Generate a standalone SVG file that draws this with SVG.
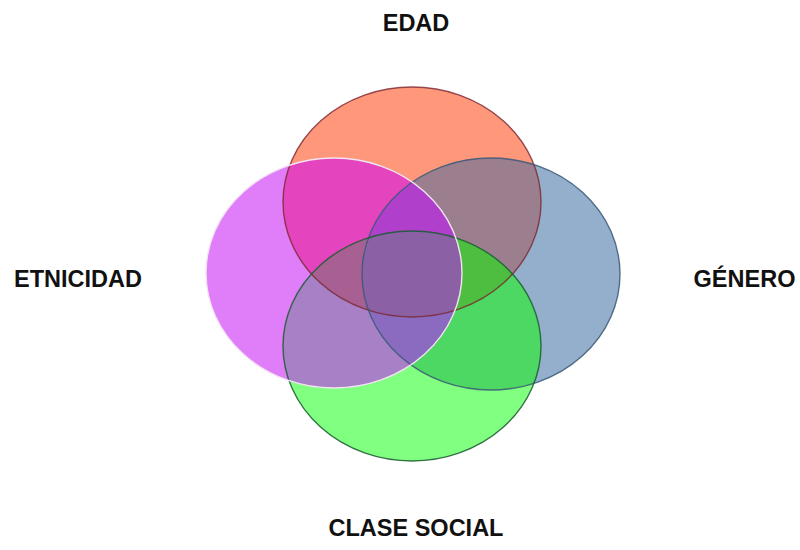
<svg xmlns="http://www.w3.org/2000/svg" xmlns:xlink="http://www.w3.org/1999/xlink" width="800" height="550" viewBox="0 0 800 550">
  <style>
    .lbl { font-family: "Liberation Sans", Arial, sans-serif; font-weight: bold; font-size: 23.5px; fill: #111111; text-anchor: middle; }
    .edge { fill: none; stroke-width: 1.4; }
  </style>
  <defs>
    <ellipse id="eR" cx="412" cy="202" rx="129" ry="115"/>
    <ellipse id="eB" cx="491" cy="274" rx="129" ry="116"/>
    <ellipse id="eG" cx="412" cy="346" rx="129" ry="115"/>
    <ellipse id="eM" cx="334" cy="273" rx="128" ry="115"/>
    <clipPath id="cR"><use xlink:href="#eR"/></clipPath>
    <clipPath id="cB"><use xlink:href="#eB"/></clipPath>
    <clipPath id="cG"><use xlink:href="#eG"/></clipPath>
    <clipPath id="cM"><use xlink:href="#eM"/></clipPath>
  </defs>
  <rect width="800" height="550" fill="#ffffff"/>

  <g id="node-edad">
    <use xlink:href="#eR" fill="#FF987B"/>
    <text class="lbl" x="416" y="31">EDAD</text>
  </g>
  <g id="node-genero">
    <use xlink:href="#eB" fill="#94AFCB"/>
    <text class="lbl" x="744.5" y="287">GÉNERO</text>
  </g>
  <g id="node-clase-social">
    <use xlink:href="#eG" fill="#80FF80"/>
    <text class="lbl" x="416" y="536">CLASE SOCIAL</text>
  </g>
  <g id="node-etnicidad">
    <use xlink:href="#eM" fill="#E07DF8"/>
    <text class="lbl" x="78" y="287">ETNICIDAD</text>
  </g>

  <g id="overlaps">
    <g clip-path="url(#cR)"><use xlink:href="#eM" fill="#E444BD"/></g>
    <g clip-path="url(#cR)"><use xlink:href="#eB" fill="#9B7F8E"/></g>
    <g clip-path="url(#cR)"><use xlink:href="#eG" fill="#A86092"/></g>
    <g clip-path="url(#cM)"><use xlink:href="#eG" fill="#A780C5"/></g>
    <g clip-path="url(#cM)"><use xlink:href="#eB" fill="#8A6CC0"/></g>
    <g clip-path="url(#cB)"><use xlink:href="#eG" fill="#4CD862"/></g>
    <g clip-path="url(#cR)"><g clip-path="url(#cM)"><use xlink:href="#eB" fill="#B040CB"/></g></g>
    <g clip-path="url(#cR)"><g clip-path="url(#cM)"><use xlink:href="#eG" fill="#A86092"/></g></g>
    <g clip-path="url(#cR)"><g clip-path="url(#cB)"><use xlink:href="#eG" fill="#4DBE3F"/></g></g>
    <g clip-path="url(#cM)"><g clip-path="url(#cB)"><use xlink:href="#eG" fill="#8A6BC0"/></g></g>
    <g clip-path="url(#cR)"><g clip-path="url(#cM)"><g clip-path="url(#cB)"><use xlink:href="#eG" fill="#8B60A5"/></g></g></g>
  </g>

  <g id="outlines">
    <use xlink:href="#eR" class="edge" stroke="#7A2630" stroke-opacity="0.8"/>
    <use xlink:href="#eB" class="edge" stroke="#3A5878" stroke-opacity="0.85"/>
    <use xlink:href="#eG" class="edge" stroke="#1A5A30" stroke-opacity="0.85"/>
    <use xlink:href="#eM" class="edge" stroke="#F2E4F2" stroke-width="1.8"/>
  </g>
</svg>
